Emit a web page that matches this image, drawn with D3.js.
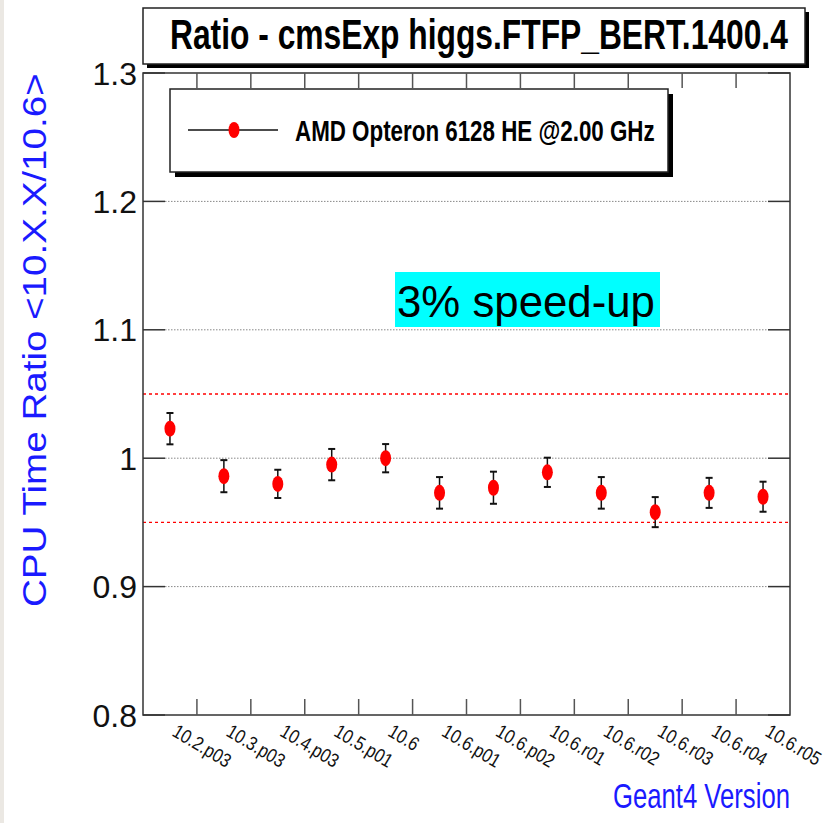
<!DOCTYPE html>
<html>
<head>
<meta charset="utf-8">
<script src="https://cdn.jsdelivr.net/npm/d3@7"></script>
<style>
  html, body { margin: 0; padding: 0; background: #ffffff; }
  svg { display: block; }
  text { font-family: "Liberation Sans", Arial, Helvetica, sans-serif; }
</style>
</head>
<body>
<div id="chart"></div>
<script>
// ---- data ----
const categories = ["10.2.p03", "10.3.p03", "10.4.p03", "10.5.p01", "10.6", "10.6.p01",
                    "10.6.p02", "10.6.r01", "10.6.r02", "10.6.r03", "10.6.r04", "10.6.r05"];
const ratios = [1.023, 0.986, 0.980, 0.995, 1.000, 0.973, 0.977, 0.989, 0.973, 0.958, 0.973, 0.970];
const errors = [0.0122, 0.0125, 0.0110, 0.0122, 0.0110, 0.0123, 0.0125, 0.0114, 0.0123, 0.0117, 0.0117, 0.0117];
const yTicks = [0.8, 0.9, 1.0, 1.1, 1.2, 1.3];
const yTickLabels = ["0.8", "0.9", "1", "1.1", "1.2", "1.3"];
const gridValues = [0.9, 1.0, 1.1, 1.2];
const bandValues = [0.95, 1.05];
const titleText = "Ratio - cmsExp higgs.FTFP_BERT.1400.4";
const legendText = "AMD Opteron 6128 HE @2.00 GHz";
const yTitle = "CPU Time Ratio <10.X.X/10.6>";
const xTitle = "Geant4 Version";
const noteText = "3% speed-up";

// ---- layout ----
const W = 835, H = 823;
const L = 143, R = 790, T = 73, B = 715;

const svg = d3.select("#chart").append("svg").attr("width", W).attr("height", H);
svg.append("rect").attr("width", W).attr("height", H).attr("fill", "#fff");
svg.append("rect").attr("x", 0).attr("y", 0).attr("width", 4).attr("height", H).attr("fill", "#ebe8e3");

const x = d3.scaleBand().domain(categories).range([L, R]).padding(0);
const y = d3.scaleLinear().domain([0.8, 1.3]).range([B, T]);

// helper: place text and squeeze it horizontally to a target width
function fitText(sel, tx, ty, width, rotate) {
  const len = sel.node().getComputedTextLength();
  const s = width / len;
  if (rotate) sel.attr("transform", `translate(${tx},${ty}) rotate(${rotate}) scale(${s},1)`);
  else sel.attr("transform", `translate(${tx},${ty}) scale(${s},1)`);
  return sel;
}

// title box
const tb = {x: 143, y: 8, w: 662, h: 56};
svg.append("rect").attr("x", tb.x + 4).attr("y", tb.y + 4).attr("width", tb.w).attr("height", tb.h).attr("fill", "#000");
svg.append("rect").attr("x", tb.x).attr("y", tb.y).attr("width", tb.w).attr("height", tb.h)
  .attr("fill", "#fff").attr("stroke", "#222").attr("stroke-width", 1.5);
fitText(svg.append("text").attr("font-size", 43).attr("font-weight", "bold").attr("fill", "#000").text(titleText),
  170, 49, 618);

// grid lines (dotted)
svg.append("g").selectAll("line").data(gridValues).join("line")
  .attr("x1", L + 22).attr("x2", R - 22)
  .attr("y1", d => y(d)).attr("y2", d => y(d))
  .attr("stroke", "#888").attr("stroke-width", 1).attr("stroke-dasharray", "1.5,1.5");

// red dashed band lines
svg.append("g").selectAll("line").data(bandValues).join("line")
  .attr("x1", L).attr("x2", R)
  .attr("y1", d => y(d)).attr("y2", d => y(d))
  .attr("stroke", "#ff0000").attr("stroke-width", 1.3).attr("stroke-dasharray", "3,3");

// frame
svg.append("rect").attr("x", L).attr("y", T).attr("width", R - L).attr("height", B - T)
  .attr("fill", "none").attr("stroke", "#333").attr("stroke-width", 1.5);

// y ticks (left and right)
const yt = svg.append("g");
yt.selectAll("line.l").data(yTicks).join("line").attr("class", "l")
  .attr("x1", L).attr("x2", L + 22).attr("y1", d => y(d)).attr("y2", d => y(d))
  .attr("stroke", "#333").attr("stroke-width", 1.5);
yt.selectAll("line.r").data(yTicks).join("line").attr("class", "r")
  .attr("x1", R - 22).attr("x2", R).attr("y1", d => y(d)).attr("y2", d => y(d))
  .attr("stroke", "#333").attr("stroke-width", 1.5);
yt.selectAll("text").data(yTicks).join("text")
  .attr("x", 137).attr("y", d => y(d) + 11.5).attr("text-anchor", "end")
  .attr("font-size", 32).attr("fill", "#111")
  .text((d, i) => yTickLabels[i]);

// x ticks at bin boundaries (bottom and top)
const boundaries = categories.slice(1);
const xt = svg.append("g");
xt.selectAll("line.b").data(boundaries).join("line").attr("class", "b")
  .attr("x1", d => x(d)).attr("x2", d => x(d)).attr("y1", B).attr("y2", B - 16)
  .attr("stroke", "#555").attr("stroke-width", 1.5);
xt.selectAll("line.t").data(boundaries).join("line").attr("class", "t")
  .attr("x1", d => x(d)).attr("x2", d => x(d)).attr("y1", T).attr("y2", T + 15)
  .attr("stroke", "#555").attr("stroke-width", 1.5);

// x tick labels (rotated)
xt.selectAll("text").data(categories).join("text")
  .attr("transform", d => `translate(${x(d) + x.bandwidth() / 2 + 1},${735}) rotate(31) scale(0.92,1.08)`)
  .attr("font-size", 18).attr("fill", "#111").text(d => d);

// axis titles
fitText(svg.append("text").attr("font-size", 33).attr("fill", "#1a1aff").text(yTitle),
  46, 607, 534, -90);
fitText(svg.append("text").attr("font-size", 35).attr("fill", "#1a1aff").text(xTitle),
  613, 808, 177);

// legend box
const lb = {x: 170, y: 89, w: 498, h: 83};
svg.append("rect").attr("x", lb.x + 5).attr("y", lb.y + 5).attr("width", lb.w).attr("height", lb.h).attr("fill", "#000");
svg.append("rect").attr("x", lb.x).attr("y", lb.y).attr("width", lb.w).attr("height", lb.h)
  .attr("fill", "#fff").attr("stroke", "#222").attr("stroke-width", 1.5);
svg.append("line").attr("x1", 188).attr("x2", 278).attr("y1", 130).attr("y2", 130)
  .attr("stroke", "#111").attr("stroke-width", 1.5);
svg.append("ellipse").attr("cx", 234).attr("cy", 130).attr("rx", 5.5).attr("ry", 8).attr("fill", "#ff0000");
fitText(svg.append("text").attr("font-size", 29).attr("font-weight", "bold").attr("fill", "#000").text(legendText),
  295, 141, 360);

// annotation
svg.append("rect").attr("x", 395).attr("y", 272).attr("width", 265).attr("height", 55).attr("fill", "#00ffff");
fitText(svg.append("text").attr("font-size", 44).attr("fill", "#000").text(noteText),
  397, 317, 258);

// data points with error bars
const pts = categories.map((c, i) => ({c, v: ratios[i], e: errors[i]}));
const g = svg.append("g");
const cx = d => x(d.c) + x.bandwidth() / 2;
g.selectAll("line.eb").data(pts).join("line").attr("class", "eb")
  .attr("x1", cx).attr("x2", cx).attr("y1", d => y(d.v + d.e)).attr("y2", d => y(d.v - d.e))
  .attr("stroke", "#111").attr("stroke-width", 1.5);
g.selectAll("line.ct").data(pts).join("line").attr("class", "ct")
  .attr("x1", d => cx(d) - 3.5).attr("x2", d => cx(d) + 3.5)
  .attr("y1", d => y(d.v + d.e)).attr("y2", d => y(d.v + d.e))
  .attr("stroke", "#111").attr("stroke-width", 2);
g.selectAll("line.cb").data(pts).join("line").attr("class", "cb")
  .attr("x1", d => cx(d) - 3.5).attr("x2", d => cx(d) + 3.5)
  .attr("y1", d => y(d.v - d.e)).attr("y2", d => y(d.v - d.e))
  .attr("stroke", "#111").attr("stroke-width", 2);
g.selectAll("ellipse").data(pts).join("ellipse")
  .attr("cx", cx).attr("cy", d => y(d.v)).attr("rx", 5.5).attr("ry", 8).attr("fill", "#ff0000");
</script>
</body>
</html>
